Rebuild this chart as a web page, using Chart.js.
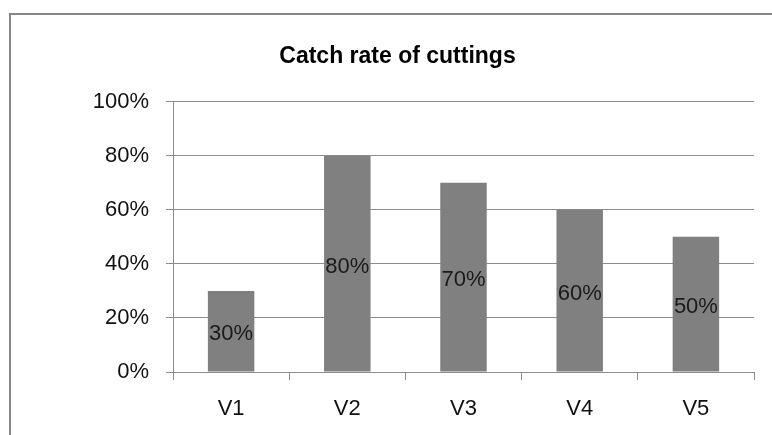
<!DOCTYPE html>
<html>
<head>
<meta charset="utf-8">
<style>
  html, body { margin: 0; padding: 0; background: #fff; }
  #wrap { position: relative; width: 772px; height: 435px; }
</style>
<script src="https://cdn.jsdelivr.net/npm/chart.js@4"></script>
</head>
<body>
<div id="wrap"><canvas id="c" width="772" height="435"></canvas></div>
<script>
// Rooting success of cuttings per variant
const categories = ['V1', 'V2', 'V3', 'V4', 'V5'];
const catchRate = [0.30, 0.80, 0.70, 0.60, 0.50];
const yTicks = [0, 0.2, 0.4, 0.6, 0.8, 1.0];

const pct = v => Math.round(v * 100) + '%';
const GRID = '#8c8c8c';
const FONT = "'Liberation Sans', Arial, sans-serif";

Chart.defaults.font.family = FONT;
Chart.defaults.color = '#111';

// Outer chart frame
const framePlugin = {
  id: 'frame',
  beforeDraw(chart) {
    const ctx = chart.ctx;
    ctx.save();
    ctx.fillStyle = '#fff';
    ctx.fillRect(0, 0, chart.width, chart.height);
    ctx.strokeStyle = '#868686';
    ctx.lineWidth = 2;
    ctx.strokeRect(10, 14, 900, 600);
    ctx.restore();
  }
};

// Value labels centred inside each bar
const valueLabels = {
  id: 'valueLabels',
  afterDatasetsDraw(chart) {
    const ctx = chart.ctx;
    const meta = chart.getDatasetMeta(0);
    ctx.save();
    ctx.font = '22px ' + FONT;
    ctx.fillStyle = '#1a1a1a';
    ctx.textAlign = 'center';
    ctx.textBaseline = 'middle';
    meta.data.forEach((bar, i) => {
      const v = chart.data.datasets[0].data[i];
      ctx.fillText(pct(v), bar.x, (bar.y + bar.base) / 2 + 3);
    });
    ctx.restore();
  }
};

new Chart(document.getElementById('c'), {
  type: 'bar',
  data: {
    labels: categories,
    datasets: [{
      data: catchRate,
      backgroundColor: '#808080',
      borderWidth: 0,
      categoryPercentage: 1.0,
      barPercentage: 0.4
    }]
  },
  options: {
    responsive: false,
    animation: false,
    devicePixelRatio: 1,
    layout: { padding: { left: 41, right: 18, top: 0, bottom: 0 } },
    plugins: {
      legend: { display: false },
      tooltip: { enabled: false },
      title: {
        display: true,
        text: 'Catch rate of cuttings',
        color: '#000',
        font: { size: 23, weight: 'bold', family: FONT },
        padding: { top: 43, bottom: 31 }
      }
    },
    scales: {
      x: {
        afterFit(scale) { scale.height = 63; },
        grid: {
          offset: true,
          drawOnChartArea: false,
          drawTicks: true,
          tickLength: 8,
          color: GRID
        },
        border: { color: GRID, width: 1 },
        ticks: { color: '#111', font: { size: 22 }, padding: 16 }
      },
      y: {
        min: 0,
        max: 1,
        afterFit(scale) { scale.width = 132; },
        afterBuildTicks(scale) { scale.ticks = yTicks.map(v => ({ value: v })); },
        grid: { color: GRID, tickLength: 7, drawTicks: true },
        border: { color: GRID, width: 1 },
        ticks: {
          color: '#111',
          font: { size: 22 },
          padding: 17,
          callback: v => pct(v)
        }
      }
    }
  },
  plugins: [framePlugin, valueLabels]
});
</script>
</body>
</html>
